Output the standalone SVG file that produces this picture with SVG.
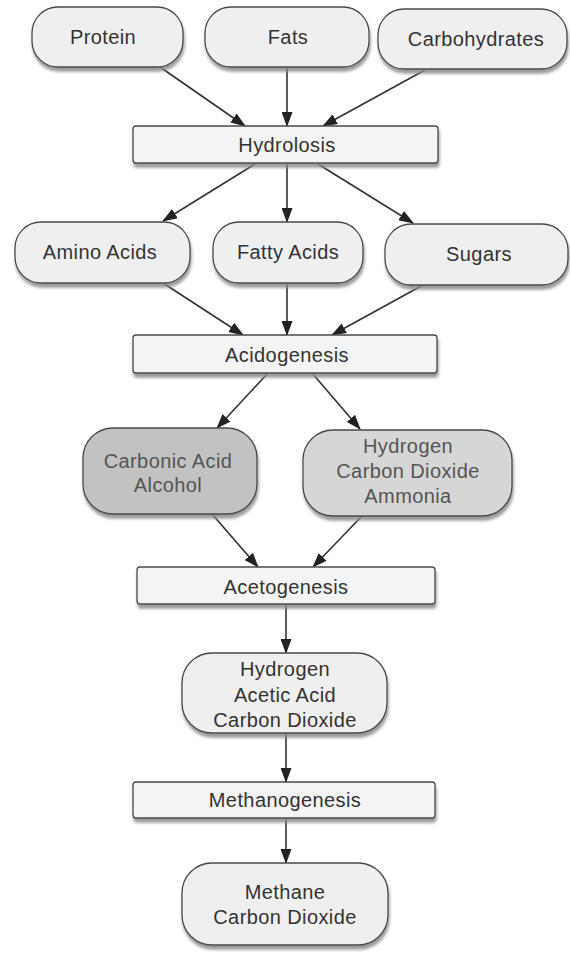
<svg xmlns="http://www.w3.org/2000/svg" width="570" height="958" viewBox="0 0 570 958">
<defs>
<style>
.pill{fill:#efefef;stroke:#4a4a4a;stroke-width:1.3;filter:url(#sh)}
.box{fill:#f4f4f4;stroke:#4a4a4a;stroke-width:1.3;filter:url(#sh)}
.dark{fill:#c2c2c2}
.mid{fill:#d6d6d6}
text{font-family:"Liberation Sans",Arial,sans-serif;font-size:20px;fill:#333;text-anchor:middle;dominant-baseline:central;letter-spacing:0.4px}
.light{fill:#555}
.conn line{stroke:#333;stroke-width:1.6;marker-end:url(#ah)}
</style>
<filter id="sh" x="-10%" y="-10%" width="130%" height="140%">
<feDropShadow dx="1" dy="4" stdDeviation="1.5" flood-color="#888" flood-opacity="0.85"/>
</filter>
<marker id="ah" markerUnits="userSpaceOnUse" markerWidth="15" markerHeight="11" refX="14" refY="5.5" orient="auto">
<path d="M0,0 L15,5.5 L0,11 z" fill="#222"/>
</marker>
</defs>
<rect width="570" height="958" fill="#fff"/>

<g class="conn">
<line x1="160" y1="67" x2="245" y2="126"/>
<line x1="287" y1="67" x2="287" y2="126"/>
<line x1="425" y1="70" x2="323" y2="126"/>
<line x1="255" y1="164" x2="163" y2="221"/>
<line x1="287" y1="164" x2="287" y2="222"/>
<line x1="318" y1="164" x2="413" y2="223"/>
<line x1="163" y1="283" x2="243" y2="335"/>
<line x1="287" y1="283" x2="287" y2="335"/>
<line x1="423" y1="285" x2="332" y2="335"/>
<line x1="268" y1="373" x2="217" y2="428"/>
<line x1="312" y1="373" x2="360" y2="429"/>
<line x1="212" y1="514" x2="258" y2="567"/>
<line x1="362" y1="516" x2="313" y2="567"/>
<line x1="286" y1="604" x2="286" y2="653"/>
<line x1="286" y1="733" x2="286" y2="782"/>
<line x1="286" y1="818" x2="286" y2="863"/>
</g>

<g id="protein"><rect class="pill" x="32" y="7" width="151" height="60" rx="26"/><text x="103" y="37">Protein</text></g>
<g id="fats"><rect class="pill" x="205" y="7" width="164" height="60" rx="26"/><text x="288" y="37">Fats</text></g>
<g id="carbohydrates"><rect class="pill" x="378" y="9" width="189" height="60" rx="26"/><text x="476" y="39">Carbohydrates</text></g>

<g id="hydrolosis"><rect class="box" x="133" y="126" width="305" height="37" rx="3"/><text x="287" y="145">Hydrolosis</text></g>

<g id="amino"><rect class="pill" x="15" y="222" width="175" height="61" rx="26"/><text x="100" y="252">Amino Acids</text></g>
<g id="fatty"><rect class="pill" x="213" y="222" width="150" height="61" rx="26"/><text x="288" y="252">Fatty Acids</text></g>
<g id="sugars"><rect class="pill" x="385" y="224" width="183" height="61" rx="26"/><text x="479" y="254">Sugars</text></g>

<g id="acidogenesis"><rect class="box" x="133" y="335" width="304" height="38" rx="3"/><text x="287" y="355">Acidogenesis</text></g>

<g id="carbonic"><rect class="pill dark" x="83" y="428" width="174" height="86" rx="30"/><text class="light" x="168" y="461">Carbonic Acid</text><text class="light" x="168" y="485">Alcohol</text></g>
<g id="hydrogen1"><rect class="pill mid" x="303" y="430" width="209" height="86" rx="30"/><text class="light" x="408" y="446">Hydrogen</text><text class="light" x="408" y="471">Carbon Dioxide</text><text class="light" x="408" y="496">Ammonia</text></g>

<g id="acetogenesis"><rect class="box" x="137" y="567" width="298" height="37" rx="3"/><text x="286" y="587">Acetogenesis</text></g>

<g id="hydrogen2"><rect class="pill" x="182" y="653" width="205" height="80" rx="30"/><text x="285" y="669">Hydrogen</text><text x="285" y="695">Acetic Acid</text><text x="285" y="720">Carbon Dioxide</text></g>

<g id="methanogenesis"><rect class="box" x="133" y="782" width="302" height="36" rx="3"/><text x="285" y="800">Methanogenesis</text></g>

<g id="methane"><rect class="pill" x="182" y="863" width="206" height="82" rx="30"/><text x="285" y="892">Methane</text><text x="285" y="917">Carbon Dioxide</text></g>
</svg>
